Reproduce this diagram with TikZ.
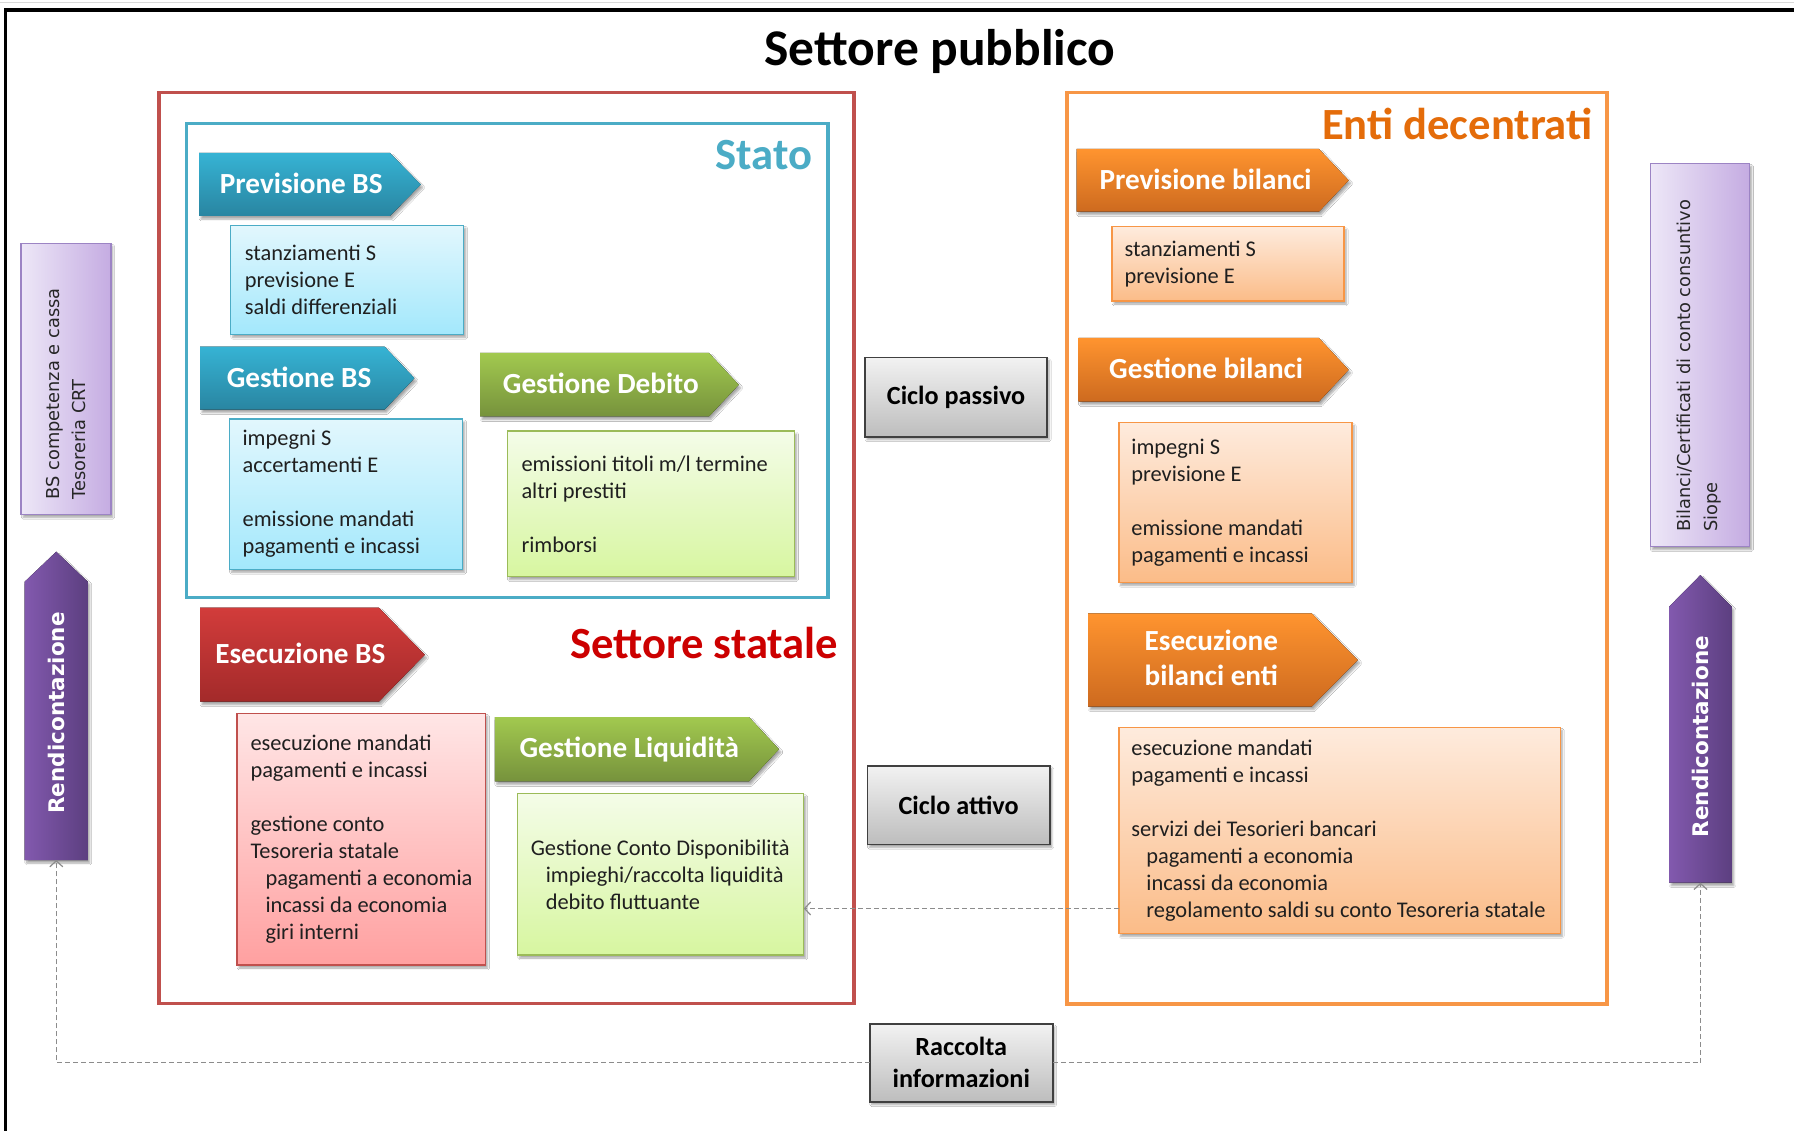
\documentclass[tikz,border=0pt]{standalone}
\usepackage{fontspec}
\setmainfont{Carlito}
\newfontfamily\vfont{DejaVu Sans}
\usetikzlibrary{shadows.blur,arrows.meta,calc}

\definecolor{cRedF}{HTML}{C0504D}
\definecolor{cBlueF}{HTML}{4BACC6}
\definecolor{cOrF}{HTML}{F79646}
\definecolor{cGreenF}{HTML}{9BBB59}
\definecolor{cSS}{HTML}{CC0000}
\definecolor{cED}{HTML}{E46C0A}
\definecolor{aBlueT}{HTML}{36B3D4}
\definecolor{aBlueB}{HTML}{2985A1}
\definecolor{aGreenT}{HTML}{A2C94F}
\definecolor{aGreenB}{HTML}{76923C}
\definecolor{aRedT}{HTML}{D23C3B}
\definecolor{aRedB}{HTML}{A32A2A}
\definecolor{aOrT}{HTML}{FF942F}
\definecolor{aOrB}{HTML}{CD6A1F}
\definecolor{aPurL}{HTML}{8259AE}
\definecolor{aPurR}{HTML}{5C3F80}
\definecolor{bBlueT}{HTML}{E2F7FD}
\definecolor{bBlueB}{HTML}{A3E8FC}
\definecolor{bGreenT}{HTML}{F4FCE8}
\definecolor{bGreenB}{HTML}{D7F6A0}
\definecolor{bRedT}{HTML}{FFE6E6}
\definecolor{bRedB}{HTML}{FFA0A0}
\definecolor{bOrT}{HTML}{FEEBDD}
\definecolor{bOrB}{HTML}{FBBC88}
\definecolor{bGrayT}{HTML}{F2F2F2}
\definecolor{bGrayB}{HTML}{BDBDBD}
\definecolor{bGrayD}{HTML}{404040}
\definecolor{pL}{HTML}{EDE7F7}
\definecolor{pR}{HTML}{C5ACE2}
\definecolor{pD}{HTML}{9C84C4}
\definecolor{dashc}{HTML}{8C8C8C}

\newcommand{\bxfont}{\fontsize{22.4}{27}\selectfont}
\newcommand{\arfont}{\fontsize{29.2}{35}\selectfont\bfseries}
\newcommand{\gyfont}{\fontsize{26.2}{32}\selectfont\bfseries}
\newcommand{\pfont}{\vfont\fontsize{17.8}{26.5}\selectfont}
\newcommand{\rfont}{\vfont\bfseries\fontsize{21.5}{24}\selectfont}
\newcommand{\lblfont}{\fontsize{44.6}{50}\selectfont\bfseries}
\newcommand{\ind}{\hspace*{15pt}}

% homeplate arrow pointing right: style, x1, y1, xbase, xtip, y2
\newcommand{\hplate}[6]{\fill[#1] (#2,#3) -- (#4,#3) -- (#5,{(#3+#6)/2}) -- (#4,#6) -- (#2,#6) -- cycle;}
% arrow pointing up: style, x1, x2, ytip, yshoulder, ybottom
\newcommand{\upplate}[6]{\fill[#1] (#2,#6) -- (#2,#5) -- ({(#2+#3)/2},#4) -- (#3,#5) -- (#3,#6) -- cycle;}

\begin{document}
\begin{tikzpicture}[x=1pt,y=-1pt,
  every node/.style={inner sep=0pt,outer sep=0pt},
  shd/.style={blur shadow={shadow xshift=2pt,shadow yshift=-3pt,shadow opacity=35,shadow blur steps=6}},
  tbox/.style={rectangle,draw,line width=1.3pt,anchor=north west,shd},
  bbox/.style={tbox,draw=cBlueF,top color=bBlueT,bottom color=bBlueB},
  gbox/.style={tbox,draw=cGreenF,top color=bGreenT,bottom color=bGreenB},
  rbox/.style={tbox,draw=cRedF,top color=bRedT,bottom color=bRedB},
  obox/.style={tbox,draw=cOrF,top color=bOrT,bottom color=bOrB},
  btxt/.style={anchor=west,align=left,font=\bxfont,text=black!88},
  graybox/.style={rectangle,draw=bGrayD,line width=1.6pt,anchor=north west,align=center,font=\gyfont,text=black,top color=bGrayT,bottom color=bGrayB,shd},
  frame/.style={rectangle,line width=3.5pt,anchor=north west},
  atext/.style={font=\arfont,text=white,anchor=base west},
  bluearrow/.style={top color=aBlueT,bottom color=aBlueB,shd},
  greenarrow/.style={top color=aGreenT,bottom color=aGreenB,shd},
  redarrow/.style={top color=aRedT,bottom color=aRedB,shd},
  orangearrow/.style={top color=aOrT,bottom color=aOrB,shd},
  purplearrow/.style={left color=aPurL,right color=aPurR,shd},
  prect/.style={rectangle,anchor=north west,draw=pD,line width=1.5pt,left color=pL,right color=pR,shd},
  ptext/.style={rotate=90,anchor=west,align=left,font=\pfont,text=black!85},
  rtext/.style={rotate=90,font=\rfont,text=white},
  dline/.style={draw=dashc,line width=1.2pt,dash pattern=on 5pt off 3pt},
  tip/.style={-{Straight Barb[length=6pt,width=13pt]}}
]
\useasboundingbox (0,0) rectangle (1794,1131);
\clip (0,0) rectangle (1794,1131);
\fill[white] (0,0) rectangle (1794,1131);

% outer frame
\draw[gray!30,line width=1pt] (0,2.5) -- (1794,2.5);
\draw[line width=3.6pt] (5.5,1140) -- (5.5,10) -- (1800,10);

% title
\node[anchor=base,font=\fontsize{51.5}{60}\selectfont\bfseries] (title) at (940,65.5) {Settore pubblico};

% frames
\node[frame,draw=cRedF,minimum width=695.2pt,minimum height=911pt] (sstat) at (159,92.3) {};
\node[frame,draw=cBlueF,minimum width=641.2pt,minimum height=474.4pt] (stato) at (186.6,123.3) {};
\node[frame,draw=cOrF,minimum width=540pt,minimum height=911.7pt] (enti) at (1067,92.3) {};

\node[anchor=base east,font=\lblfont,text=cBlueF] (statolbl) at (812.3,170) {Stato};
\node[anchor=base west,font=\lblfont,text=cSS] (sslbl) at (570,658.3) {Settore statale};
\node[anchor=base east,font=\lblfont,text=cED] (edlbl) at (1592.7,139.3) {Enti decentrati};

% arrow shapes
\hplate{bluearrow}{199}{153}{390}{420.8}{216}
\hplate{bluearrow}{200}{346.7}{384.6}{414.5}{409.6}
\hplate{greenarrow}{480}{353}{709}{738.8}{416.5}
\hplate{redarrow}{200}{607.7}{378.9}{424.8}{701.7}
\hplate{greenarrow}{494.8}{717}{749}{779}{781.4}
\hplate{orangearrow}{1076.7}{149}{1319}{1348.7}{211.7}
\hplate{orangearrow}{1078.5}{338}{1319}{1348.7}{401.6}
\hplate{orangearrow}{1088.1}{613.3}{1311.6}{1357.8}{706.7}

\node[atext] (prevbs) at (219.9,193.3) {Previsione BS};
\node[atext] (gestbs) at (226.8,387.3) {Gestione BS};
\node[atext] (gestdeb) at (502.9,393.3) {Gestione Debito};
\node[atext] (esecbs) at (215.3,663.3) {Esecuzione BS};
\node[atext] (gestliq) at (519.5,757.5) {Gestione Liquidità};
\node[atext] (prevbil) at (1099.5,189.3) {Previsione bilanci};
\node[atext] (gestbil) at (1109.2,379) {Gestione bilanci};
\node[atext,anchor=base,align=center] (esecbil) at (1211.3,685) {Esecuzione\\bilanci enti};

% content boxes
\node[bbox,minimum width=233pt,minimum height=109pt] (bs1) at (230.8,225.3) {};
\node[btxt] (bs1t) at ([xshift=14pt]bs1.west) {stanziamenti S\\previsione E\\saldi differenziali};

\node[bbox,minimum width=233pt,minimum height=150.3pt] (bs2) at (229.6,419) {};
\node[btxt] (bs2t) at ([xshift=13pt]bs2.west) {impegni S\\accertamenti E\\[27pt]emissione mandati\\pagamenti e incassi};

\node[gbox,minimum width=287pt,minimum height=145.7pt] (gb1) at (507.5,431) {};
\node[btxt] (gb1t) at ([xshift=14pt]gb1.west) {emissioni titoli m/l termine\\altri prestiti\\[27pt]rimborsi};

\node[rbox,minimum width=248.6pt,minimum height=251.7pt] (rb) at (237,713.3) {};
\node[btxt] (rbt) at ([xshift=13.5pt]rb.west) {esecuzione mandati\\pagamenti e incassi\\[27pt]gestione conto\\Tesoreria statale\\\ind pagamenti a economia\\\ind incassi da economia\\\ind giri interni};

\node[gbox,minimum width=286pt,minimum height=161.3pt] (gb2) at (517.8,793.7) {};
\node[btxt] (gb2t) at ([xshift=13pt]gb2.west) {Gestione Conto Disponibilità\\\ind impieghi/raccolta liquidità\\\ind debito fluttuante};

\node[obox,minimum width=232pt,minimum height=74.3pt] (ob1) at (1112.1,226.7) {};
\node[btxt] (ob1t) at ([xshift=12.5pt]ob1.west) {stanziamenti S\\previsione E};

\node[obox,minimum width=233.2pt,minimum height=159.6pt] (ob2) at (1118.9,422.7) {};
\node[btxt] (ob2t) at ([xshift=12.5pt]ob2.west) {impegni S\\previsione E\\[27pt]emissione mandati\\pagamenti e incassi};

\node[obox,minimum width=441.3pt,minimum height=206pt] (ob3) at (1118.9,727.3) {};
\node[btxt] (ob3t) at ([xshift=12.5pt]ob3.west) {esecuzione mandati\\pagamenti e incassi\\[27pt]servizi dei Tesorieri bancari\\\ind pagamenti a economia\\\ind incassi da economia\\\ind regolamento saldi su conto Tesoreria statale};

% gray boxes
\node[graybox,minimum width=182.1pt,minimum height=79pt] (cpass) at (865,357.7) {Ciclo passivo};
\node[graybox,minimum width=182.5pt,minimum height=78.6pt] (catt) at (867.4,765.7) {Ciclo attivo};
\node[graybox,minimum width=183.1pt,minimum height=77.7pt] (racc) at (869.7,1024) {Raccolta\\informazioni};

% purple boxes
\node[prect,minimum width=89.6pt,minimum height=271pt] (pl) at (21.2,243.3) {};
\node[ptext] (plt) at (66,499.5) {BS competenza e cassa\\Tesoreria CRT};
\node[prect,minimum width=99.2pt,minimum height=383.4pt] (pr) at (1650.3,163.3) {};
\node[ptext] (prt) at (1699,531.7) {Bilanci/Certificati di conto consuntivo\\Siope};

% Rendicontazione arrows
\upplate{purplearrow}{24.7}{87.8}{551.7}{581.7}{860}
\upplate{purplearrow}{1669.1}{1731.8}{575}{606.7}{882.7}
\node[rtext] (rendl) at (56.3,713) {Rendicontazione};
\node[rtext] (rendr) at (1700.5,736.7) {Rendicontazione};
\coordinate (rendLb) at (56.3,860);
\coordinate (rendRb) at (1700.5,882.7);

% dashed connectors
\coordinate (lvl) at (0,908.5);
\draw[dline,tip] (ob3.west |- lvl) -- (gb2.east |- lvl);
\draw[dline,tip] (racc.west) -| (rendLb);
\draw[dline,tip] (racc.east) -| (rendRb);
\end{tikzpicture}
\end{document}
